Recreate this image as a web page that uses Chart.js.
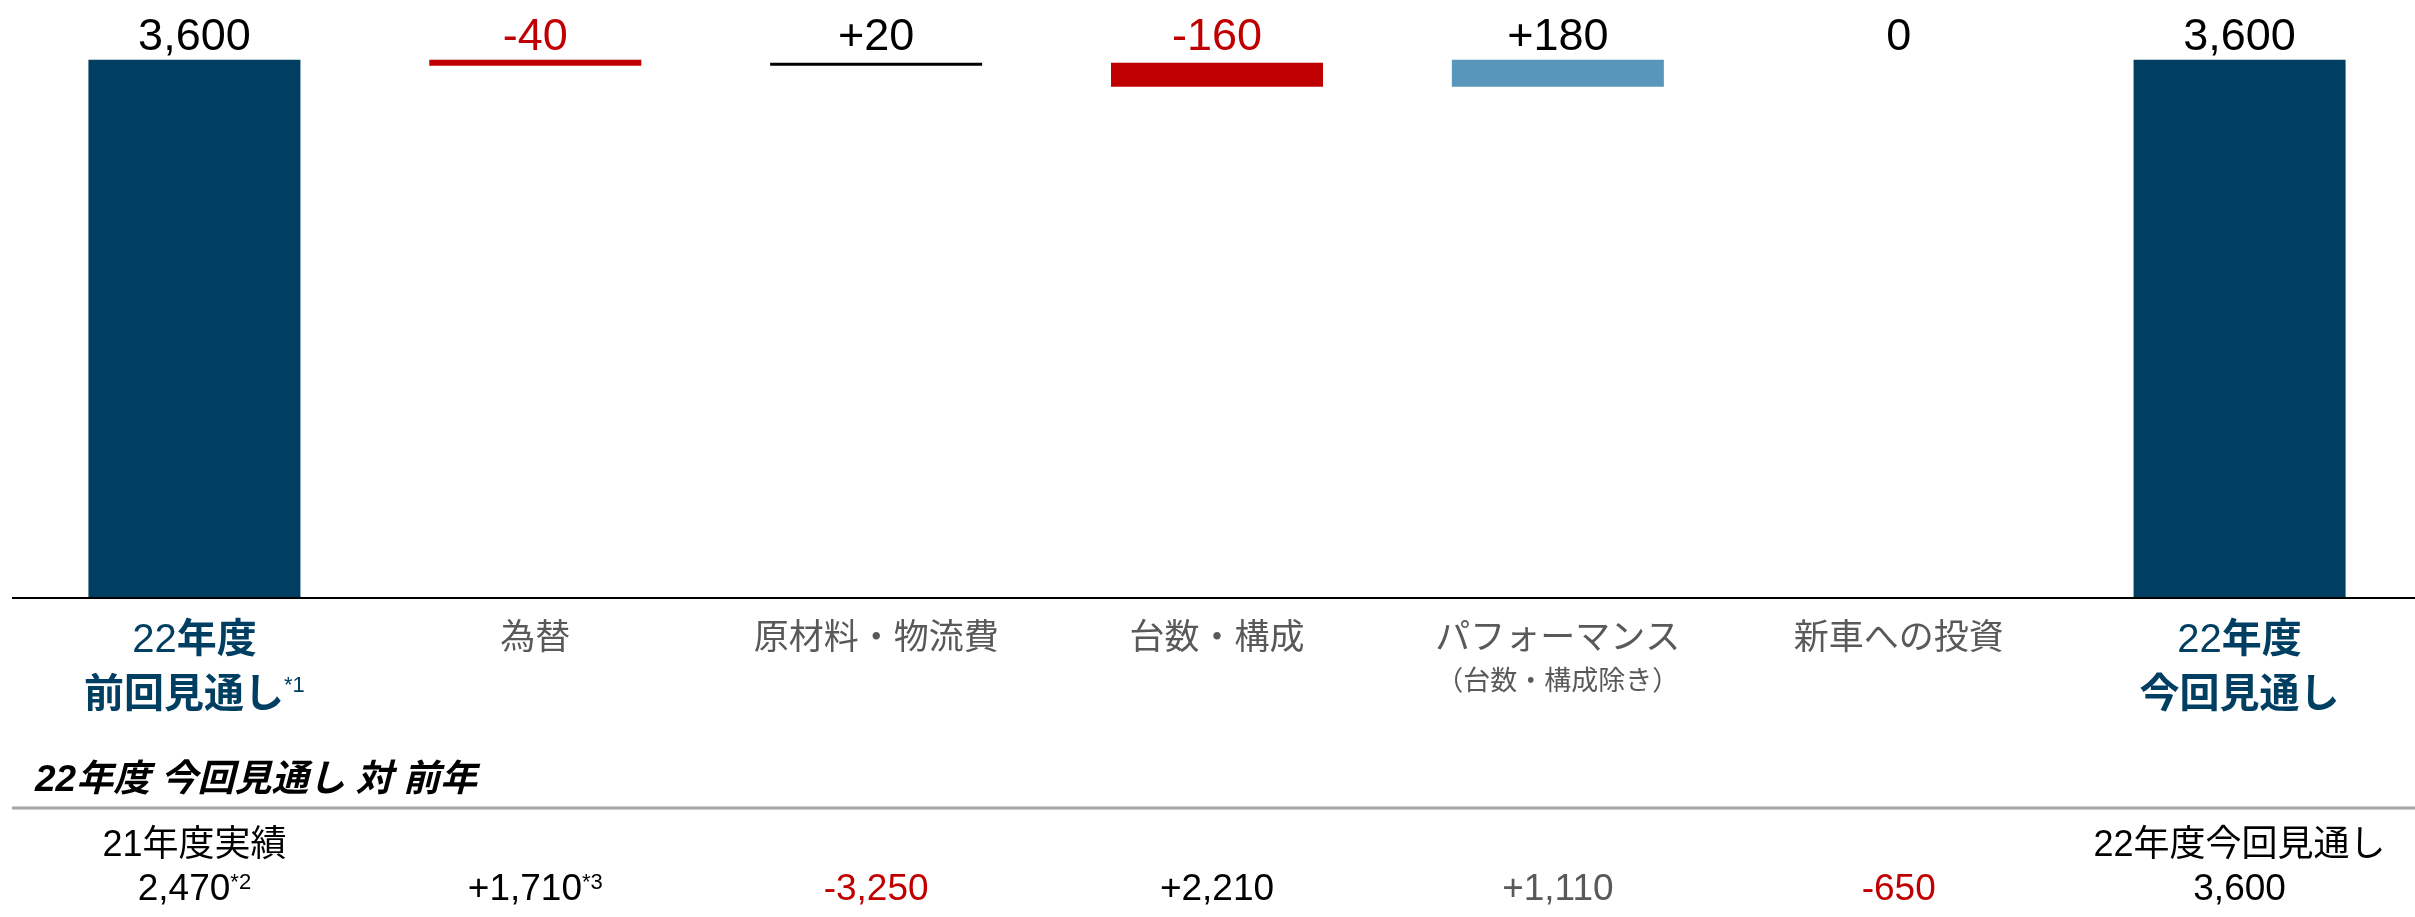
<!DOCTYPE html>
<html lang="ja">
<head>
<meta charset="UTF-8">
<title>22年度 営業利益 増減要因</title>
<script src="https://cdn.jsdelivr.net/npm/chart.js@4/dist/chart.umd.min.js"></script>
<style>
  html, body { margin: 0; padding: 0; background: #fff; }
  .wrap { width: 2415px; height: 917px; position: relative; }
</style>
</head>
<body>
<div class="wrap">
  <canvas id="chart"></canvas>
</div>

<script>
// ---------------- data ----------------
const categories = [
  ['22年度', '前回見通し'],
  ['為替'],
  ['原材料・物流費'],
  ['台数・構成'],
  ['パフォーマンス', '（台数・構成除き）'],
  ['新車への投資'],
  ['22年度', '今回見通し']
];
const changes = [3600, -40, 20, -160, 180, 0, 3600];
const isTotal = [true, false, false, false, false, false, true];
const noteMarks = ['*1', '', '', '', '', '', ''];

// table below the chart: 22年度 今回見通し 対 前年
const yoyTitle = '22年度 今回見通し 対 前年';
const yoyLabels = ['21年度実績', '', '', '', '', '', '22年度今回見通し'];
const yoyValues = ['2,470', '+1,710', '-3,250', '+2,210', '+1,110', '-650', '3,600'];
const yoyNotes = ['*2', '*3', '', '', '', '', ''];

// ---------------- colours / fonts ----------------
const NAVY = '#003E62';
const RED = '#C00000';
const BLUE = '#5896BC';
const GREY = '#595959';
const barColors = [NAVY, RED, '#000000', RED, BLUE, BLUE, NAVY];
const yoyColors = ['#000', '#000', RED, '#000', GREY, RED, '#000'];
const FONT = "'Liberation Sans', Arial, 'Noto Sans CJK JP'";

// floating bars for the waterfall
let running = 0;
const ranges = changes.map((v, i) => {
  if (isTotal[i]) { running = v; return [0, v]; }
  const start = running;
  running += v;
  return [start, running];
});

function fmt(v, total) {
  const s = Math.abs(v).toLocaleString('en-US');
  if (total || v === 0) return s;
  return (v > 0 ? '+' : '-') + s;
}

// draw several pieces of text (different font/colour) centred on cx
function drawRuns(ctx, runs, cx, y) {
  let total = 0;
  runs.forEach(r => { ctx.font = r.font; r.w = ctx.measureText(r.text).width; total += r.w; });
  let x = cx - total / 2;
  ctx.textAlign = 'left';
  ctx.textBaseline = 'alphabetic';
  runs.forEach(r => {
    ctx.font = r.font;
    ctx.fillStyle = r.color;
    ctx.fillText(r.text, x, y + (r.dy || 0));
    x += r.w;
  });
}

// ---------------- plugin: labels, base line, table ----------------
const waterfallText = {
  id: 'waterfallText',
  afterDatasetsDraw(chart) {
    const ctx = chart.ctx;
    const xs = chart.scales.x;
    const ys = chart.scales.y;
    const W = chart.width;
    ctx.save();

    // base line
    const y0 = ys.getPixelForValue(0);
    ctx.strokeStyle = '#000';
    ctx.lineWidth = 2;
    ctx.beginPath();
    ctx.moveTo(12, y0);
    ctx.lineTo(W, y0);
    ctx.stroke();

    categories.forEach((lines, i) => {
      const cx = xs.getPixelForValue(i);

      // value on top
      const col = changes[i] < 0 ? RED : '#000';
      drawRuns(ctx, [{ text: fmt(changes[i], isTotal[i]), font: '45px ' + FONT, color: col }], cx, 50);

      // category label
      if (isTotal[i]) {
        drawRuns(ctx, [
          { text: lines[0].slice(0, 2), font: '40px ' + FONT, color: NAVY },
          { text: lines[0].slice(2), font: 'bold 40px ' + FONT, color: NAVY }
        ], cx, 652);
        const runs = [{ text: lines[1], font: 'bold 40px ' + FONT, color: NAVY }];
        if (noteMarks[i]) runs.push({ text: noteMarks[i], font: '22px ' + FONT, color: NAVY, dy: -15 });
        drawRuns(ctx, runs, cx, 707);
      } else {
        drawRuns(ctx, [{ text: lines[0], font: '35px ' + FONT, color: GREY }], cx, 649);
        if (lines[1]) drawRuns(ctx, [{ text: lines[1], font: '27px ' + FONT, color: GREY }], cx, 690);
      }

      // table row
      if (yoyLabels[i]) drawRuns(ctx, [{ text: yoyLabels[i], font: '36px ' + FONT, color: '#000' }], cx, 856);
      const vr = [{ text: yoyValues[i], font: '37px ' + FONT, color: yoyColors[i] }];
      if (yoyNotes[i]) vr.push({ text: yoyNotes[i], font: '22px ' + FONT, color: '#000', dy: -11 });
      drawRuns(ctx, vr, cx, 900);
    });

    // table title + separator
    ctx.font = 'italic bold 37px ' + FONT;
    ctx.fillStyle = '#000';
    ctx.textAlign = 'left';
    ctx.fillText(yoyTitle, 35, 791);
    ctx.strokeStyle = '#A6A6A6';
    ctx.lineWidth = 3;
    ctx.beginPath();
    ctx.moveTo(12, 808);
    ctx.lineTo(W, 808);
    ctx.stroke();

    ctx.restore();
  }
};

// ---------------- chart ----------------
new Chart(document.getElementById('chart'), {
  type: 'bar',
  data: {
    labels: categories,
    datasets: [{
      data: ranges,
      backgroundColor: barColors,
      borderWidth: 0,
      barPercentage: 0.622,
      categoryPercentage: 1
    }]
  },
  options: {
    responsive: true,
    maintainAspectRatio: false,
    animation: false,
    events: [],
    layout: { padding: { left: 24, right: 5, top: 0, bottom: 319 } },
    scales: {
      x: { display: false },
      y: { display: false, min: 0, max: 4000 }
    },
    plugins: {
      legend: { display: false },
      tooltip: { enabled: false }
    }
  },
  plugins: [waterfallText]
});
</script>
</body>
</html>
